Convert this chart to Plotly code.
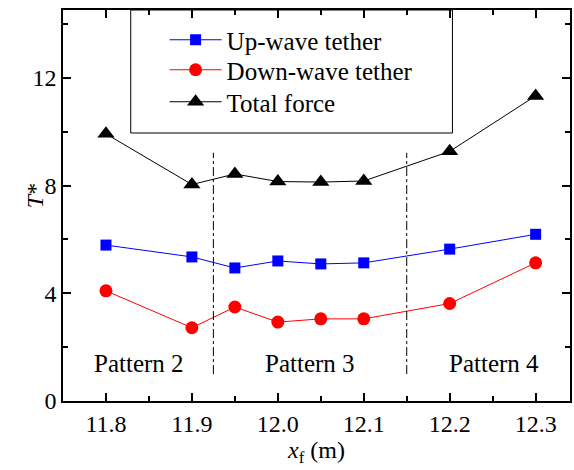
import plotly.graph_objects as go

x_f = [11.8, 11.9, 11.95, 12.0, 12.05, 12.1, 12.2, 12.3]
up_wave = [5.79, 5.35, 4.94, 5.20, 5.09, 5.13, 5.64, 6.19]
down_wave = [4.09, 2.72, 3.49, 2.93, 3.05, 3.05, 3.62, 5.13]
total_force = [9.92, 8.04, 8.43, 8.15, 8.13, 8.17, 9.27, 11.33]

series_names = ["Up-wave tether", "Down-wave tether", "Total force"]

pattern_boundaries = [11.925, 12.15]
pattern_labels = ["Pattern 2", "Pattern 3", "Pattern 4"]
pattern_label_x = [11.8385, 12.037, 12.252]
pattern_label_y = 1.41

FONT = "Liberation Serif"
FS = 24

fig = go.Figure()
fig.add_trace(go.Scatter(x=x_f, y=up_wave, mode="lines+markers", name=series_names[0],
                         line=dict(color="#0000ff", width=1),
                         marker=dict(symbol="square", size=11, color="#0000ff"),
                         legend="legend"))
fig.add_trace(go.Scatter(x=x_f, y=down_wave, mode="lines+markers", name=series_names[1],
                         line=dict(color="#ff0000", width=1),
                         marker=dict(symbol="circle", size=13, color="#ff0000"),
                         legend="legend2"))
fig.add_trace(go.Scatter(x=x_f, y=total_force, mode="lines+markers", name=series_names[2],
                         line=dict(color="#000000", width=1),
                         marker=dict(symbol="triangle-up", size=15, color="#000000"),
                         legend="legend3"))

for xb in pattern_boundaries:
    fig.add_shape(type="line", x0=xb, x1=xb, y0=1.0, y1=9.22, xref="x", yref="y",
                  line=dict(color="black", width=1, dash="dashdot"))

for lbl, lx in zip(pattern_labels, pattern_label_x):
    fig.add_annotation(x=lx, y=pattern_label_y, text=lbl, showarrow=False,
                       font=dict(family=FONT, size=25, color="black"))

# y-axis title placed as annotation (overlaps tick label column like the reference)
fig.add_annotation(xref="paper", yref="paper", x=(20 - 63) / 509, y=(401 - 196) / 391,
                   text="<i>T</i>*", showarrow=False, textangle=-90,
                   font=dict(family=FONT, size=FS, color="black"))

# legend box
fig.add_shape(type="rect", xref="paper", yref="paper",
              x0=(131 - 63) / 509, x1=(454 - 63) / 509, y0=(401 - 133) / 391, y1=1.0,
              line=dict(color="black", width=1), fillcolor="rgba(0,0,0,0)")

legend_rows_px = [40, 70, 102]


def legend_cfg(row_px):
    return dict(x=(165 - 63) / 509, y=(401 - row_px) / 391, xanchor="left", yanchor="middle",
                bgcolor="rgba(0,0,0,0)", borderwidth=0, itemwidth=52,
                font=dict(family=FONT, size=25, color="black"))


axis_common = dict(showline=True, linecolor="black", linewidth=1.5, mirror="ticks",
                   ticks="inside", ticklen=8, tickwidth=1.5, tickcolor="black",
                   showgrid=False, zeroline=False,
                   tickfont=dict(family=FONT, size=FS, color="black"))

fig.update_layout(
    width=574, height=470,
    margin=dict(l=63, r=2, t=10, b=69),
    paper_bgcolor="white", plot_bgcolor="white",
    font=dict(family=FONT, size=FS, color="black"),
    showlegend=True,
    legend=legend_cfg(legend_rows_px[0]),
    legend2=legend_cfg(legend_rows_px[1]),
    legend3=legend_cfg(legend_rows_px[2]),
    xaxis=dict(range=[11.75, 12.34], tickvals=[11.8, 11.9, 12.0, 12.1, 12.2, 12.3],
               ticktext=["11.8", "11.9", "12.0", "12.1", "12.2", "12.3"],
               minor=dict(tickvals=[11.85, 11.95, 12.05, 12.15, 12.25], ticks="inside",
                          ticklen=5, tickwidth=1.5, tickcolor="black"),
               title=dict(text="<i>x</i><sub>f</sub> (m)", standoff=0,
                          font=dict(family=FONT, size=FS)),
               **axis_common),
    yaxis=dict(range=[0, 14.52], tickvals=[0, 4, 8, 12],
               minor=dict(tickvals=[2, 6, 10, 14], ticks="inside",
                          ticklen=5, tickwidth=1.5, tickcolor="black"),
               **axis_common),
)

fig.write_html("out.html", config={"displayModeBar": False},
               post_script="document.body.style.margin='0';")
